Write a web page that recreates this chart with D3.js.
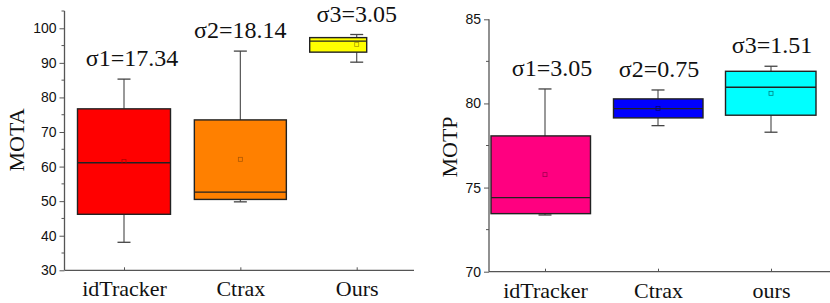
<!DOCTYPE html>
<html><head><meta charset="utf-8">
<script src="https://cdn.jsdelivr.net/npm/d3@7"></script>
<style>body{margin:0;background:#fff}svg{display:block}</style>
</head><body>
<svg id="c" width="830" height="303"></svg>
<script>
// ---- data ----
const motaCategories = ["idTracker", "Ctrax", "Ours"];
const motaWhiskerLow = [38.1, 49.8, 90.2];
const motaQ1 = [46.2, 50.5, 93.1];
const motaMedian = [61.1, 52.6, 96.3];
const motaQ3 = [76.7, 73.5, 97.3];
const motaWhiskerHigh = [85.3, 93.4, 98.2];
const motaMean = [61.5, 62.1, 95.3];
const motaSigma = ["σ1=17.34", "σ2=18.14", "σ3=3.05"];
const motaTicks = [30, 40, 50, 60, 70, 80, 90, 100];

const motpCategories = ["idTracker", "Ctrax", "ours"];
const motpWhiskerLow = [73.37, 78.68, 78.29];
const motpQ1 = [73.45, 79.14, 79.3];
const motpMedian = [74.4, 79.69, 80.96];
const motpQ3 = [78.07, 80.27, 81.91];
const motpWhiskerHigh = [80.86, 80.8, 82.21];
const motpMean = [75.77, 79.7, 80.6];
const motpSigma = ["σ1=3.05", "σ2=0.75", "σ3=1.51"];
const motpTicks = [70, 75, 80, 85];

// ---- layout / style ----
const svg = d3.select("#c");
const AX = "#555";
const panels = [
  {cats: motaCategories, lo: motaWhiskerLow, q1: motaQ1, med: motaMedian, q3: motaQ3, hi: motaWhiskerHigh,
   mean: motaMean, sigma: motaSigma, ticks: motaTicks, minorStep: 5, title: "MOTA",
   yDomain: [30, 105], yRange: [270.3, 11], xRange: [124, 356.7], axisX: 64.5, axisEnd: 414,
   fills: ["#FF0000", "#FF8000", "#FFFF00"], marks: ["#b00000", "#b05800", "#b0a000"],
   boxes: [[-46.5, 46.5], [-46, 46], [-47, 10]], sigmaDx: [8, 0, 0], titleX: 17, titleY: 140},
  {cats: motpCategories, lo: motpWhiskerLow, q1: motpQ1, med: motpMedian, q3: motpQ3, hi: motpWhiskerHigh,
   mean: motpMean, sigma: motpSigma, ticks: motpTicks, minorStep: 2.5, title: "MOTP",
   yDomain: [70, 85], yRange: [271.7, 19.3], xRange: [545, 771], axisX: 489, axisEnd: 830,
   fills: ["#FF0080", "#0000FF", "#00FFFF"], marks: ["#a00050", "#000080", "#008080"],
   boxes: [[-54, 45.5], [-44.5, 45], [-45.5, 45]], sigmaDx: [7, 1, 1], titleX: 450, titleY: 147}
];

panels.forEach(p => {
  const y = d3.scaleLinear().domain(p.yDomain).range(p.yRange);
  const x = d3.scalePoint().domain(p.cats).range(p.xRange);
  const g = svg.append("g");
  const base = y(p.yDomain[0]);

  // y axis with minor ticks
  const minor = d3.range(p.yDomain[0], p.yDomain[1] + 0.001, p.minorStep).filter(v => !p.ticks.includes(v));
  const yAxis = d3.axisLeft(y).tickValues(p.ticks).tickSize(5).tickPadding(3).tickSizeOuter(0);
  const ga = g.append("g").attr("transform", `translate(${p.axisX},0)`).call(yAxis);
  ga.select(".domain").attr("stroke", AX).attr("stroke-width", 1.3)
    .attr("d", `M0,${y(p.yDomain[1])}V${base}`);
  ga.selectAll(".tick line").attr("stroke", AX);
  ga.selectAll(".tick text").attr("font-family", "Liberation Sans, Arial, sans-serif").attr("font-size", 14).attr("fill", "#111");
  ga.selectAll(".minor").data(minor).enter().append("line").attr("class", "minor")
    .attr("x1", -3).attr("x2", 0).attr("y1", d => y(d)).attr("y2", d => y(d)).attr("stroke", AX);

  // x axis
  const xAxis = d3.axisBottom(x).tickSize(0).tickPadding(0).tickSizeOuter(0);
  const gx = g.append("g").attr("transform", `translate(0,${base})`).call(xAxis);
  gx.select(".domain").attr("stroke", AX).attr("stroke-width", 1.3).attr("d", `M${p.axisX},0H${p.axisEnd}`);
  gx.selectAll(".tick line").attr("y2", -3).attr("stroke", AX);
  gx.selectAll(".tick text").attr("font-family", "Liberation Serif, Times New Roman, serif")
    .attr("font-size", 22).attr("fill", "#111").attr("dy", 0).attr("y", 26);

  // y title
  g.append("text").attr("transform", `translate(${p.titleX + 7},${p.titleY}) rotate(-90)`)
    .attr("text-anchor", "middle").attr("font-family", "Liberation Serif, Times New Roman, serif")
    .attr("font-size", 22).attr("fill", "#111").text(p.title);

  p.cats.forEach((c, i) => {
    const cx = x(c);
    const bx0 = cx + p.boxes[i][0], bx1 = cx + p.boxes[i][1];
    // whiskers
    g.append("line").attr("x1", cx).attr("x2", cx).attr("y1", y(p.hi[i])).attr("y2", y(p.q3[i])).attr("stroke", "#555").attr("stroke-width", 1.2);
    g.append("line").attr("x1", cx).attr("x2", cx).attr("y1", y(p.q1[i])).attr("y2", y(p.lo[i])).attr("stroke", "#555").attr("stroke-width", 1.2);
    [p.hi[i], p.lo[i]].forEach(v => {
      g.append("line").attr("x1", cx - 6.5).attr("x2", cx + 6.5).attr("y1", y(v)).attr("y2", y(v)).attr("stroke", "#444").attr("stroke-width", 1.3);
    });
    // box
    g.append("rect").attr("x", bx0).attr("width", bx1 - bx0)
      .attr("y", y(p.q3[i])).attr("height", y(p.q1[i]) - y(p.q3[i]))
      .attr("fill", p.fills[i]).attr("stroke", "#222").attr("stroke-width", 1.4);
    // median
    g.append("line").attr("x1", bx0).attr("x2", bx1).attr("y1", y(p.med[i])).attr("y2", y(p.med[i]))
      .attr("stroke", "#222").attr("stroke-width", 1.4);
    // mean
    const my = y(p.mean[i]);
    g.append("rect").attr("x", cx - 2).attr("y", my - 2).attr("width", 4).attr("height", 4)
      .attr("fill", "none").attr("stroke", p.marks[i]).attr("stroke-width", 0.8);
    // sigma label
    g.append("text").attr("x", cx + p.sigmaDx[i]).attr("y", y(p.hi[i]) - 13)
      .attr("text-anchor", "middle").attr("font-family", "Liberation Serif, Times New Roman, serif")
      .attr("font-size", 24).attr("fill", "#111").text(p.sigma[i]);
  });
});
</script>
</body></html>
